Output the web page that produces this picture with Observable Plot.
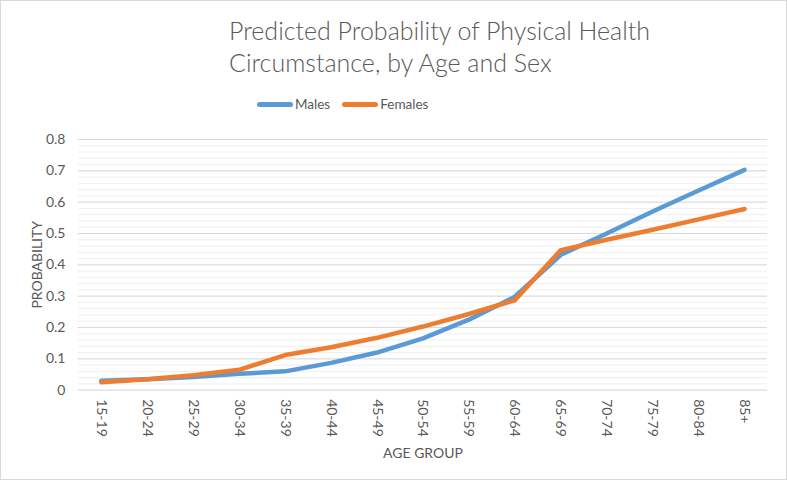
<!DOCTYPE html>
<html>
<head>
<meta charset="utf-8">
<script src="https://cdn.jsdelivr.net/npm/d3@7"></script>
<script src="https://cdn.jsdelivr.net/npm/@observablehq/plot@0.6"></script>
<style>
  body { margin: 0; background: #fff; font-family: Lato, "Open Sans", sans-serif; }
  #frame { position: relative; width: 785px; height: 478px; border: 1px solid #d9d9d9; overflow: hidden; }
  #title { position: absolute; left: 228px; top: 13px; font-size: 25px; font-weight: 300; color: #595959; line-height: 32px; }
  #legend { position: absolute; top: 95px; left: 256px; font-size: 13.5px; color: #595959; display: flex; align-items: center; }
  .item { display: flex; align-items: center; margin-right: 12px; }
  .swatch { width: 36px; height: 5px; border-radius: 3px; margin-right: 2px; }
  #chart { position: absolute; left: -1px; top: 119px; }
</style>
</head>
<body>
<div id="frame">
  <div id="title">Predicted Probability of Physical Health<br>Circumstance, by Age and Sex</div>
  <div id="legend"></div>
  <div id="chart"></div>
</div>
<script>
const ageGroups = ["15-19","20-24","25-29","30-34","35-39","40-44","45-49","50-54","55-59","60-64","65-69","70-74","75-79","80-84","85+"];
const males   = [0.030,0.035,0.042,0.052,0.060,0.087,0.120,0.165,0.225,0.298,0.432,0.500,0.570,0.637,0.703];
const females = [0.025,0.035,0.048,0.065,0.112,0.137,0.167,0.203,0.243,0.287,0.447,0.480,0.512,0.545,0.578];
const seriesNames = ["Males","Females"];
const seriesColors = ["#5B9BD5","#ED7D31"];
const yMajor = [0,0.1,0.2,0.3,0.4,0.5,0.6,0.7,0.8];
const yMinor = d3.range(0, 0.8001, 0.02);

const data = [];
ageGroups.forEach((a,i) => {
  data.push({age: a, value: males[i], sex: "Males"});
  data.push({age: a, value: females[i], sex: "Females"});
});

const legend = document.getElementById("legend");
seriesNames.forEach((n,i) => {
  const it = document.createElement("div"); it.className = "item";
  const sw = document.createElement("div"); sw.className = "swatch"; sw.style.background = seriesColors[i];
  const tx = document.createElement("span"); tx.textContent = n;
  it.appendChild(sw); it.appendChild(tx); legend.appendChild(it);
});

const plot = Plot.plot({
  width: 787,
  height: 355,
  marginTop: 19,
  marginBottom: 85,
  marginLeft: 78,
  marginRight: 19,
  style: {fontFamily: "Lato, 'Open Sans', sans-serif", fontSize: "14px", color: "#595959", background: "transparent"},
  x: {type: "point", domain: ageGroups, padding: 0.5},
  y: {domain: [0, 0.8]},
  color: {domain: seriesNames, range: seriesColors},
  marks: [
    Plot.ruleY(yMinor, {stroke: "#efefef", strokeWidth: 1}),
    Plot.ruleY(yMajor, {stroke: "#d9d9d9", strokeWidth: 1}),
    Plot.axisY({ticks: yMajor, tickSize: 0, tickPadding: 13, tickFormat: d => d === 0 ? "0" : d3.format(".1f")(d),
      label: "PROBABILITY", labelAnchor: "center", labelArrow: "none", labelOffset: 46, fontSize: 14}),
    Plot.axisX({tickSize: 0, tickPadding: 9, tickRotate: 90, label: "AGE GROUP", labelAnchor: "center", labelArrow: "none", labelOffset: 68, fontSize: 14}),
    Plot.line(data, {x: "age", y: "value", stroke: "sex", z: "sex", strokeWidth: 4.5, strokeLinejoin: "round", strokeLinecap: "round"})
  ]
});
document.getElementById("chart").appendChild(plot);
</script>
</body>
</html>
